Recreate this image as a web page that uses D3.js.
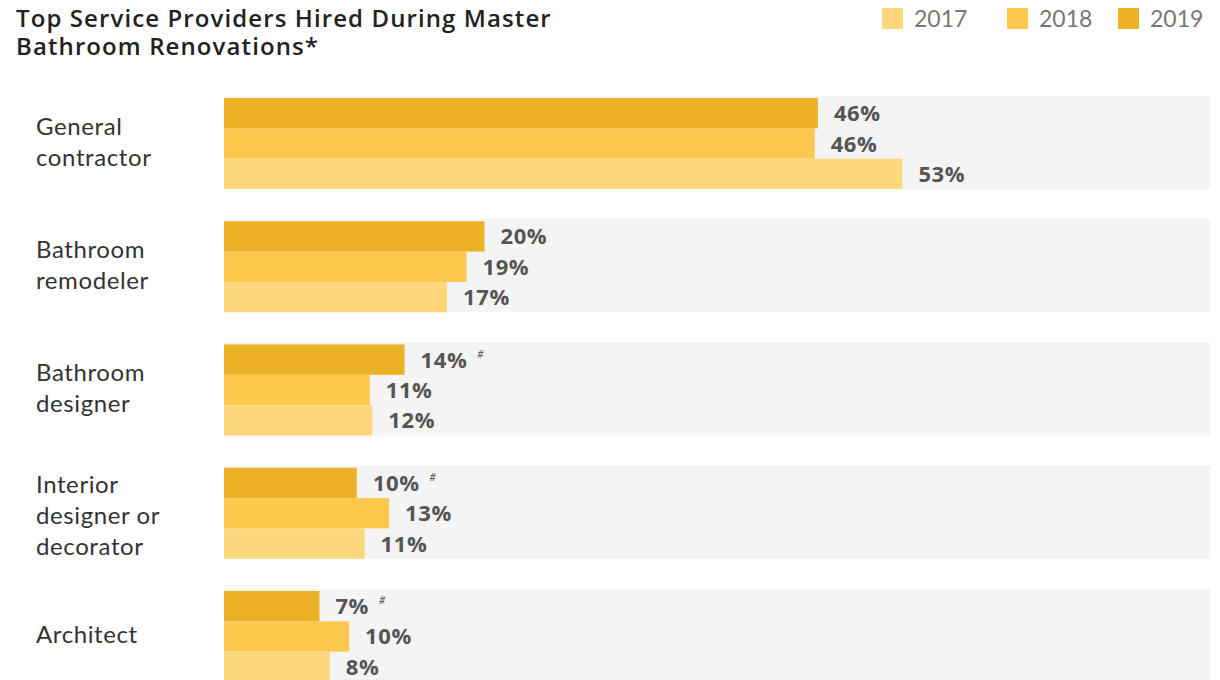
<!DOCTYPE html>
<html lang="en">
  <head>
    <meta charset="UTF-8" />
    <title>Top Service Providers Hired During Master Bathroom Renovations</title>
    <script src="https://d3js.org/d3.v7.min.js"></script>
    <style>
      body {
        margin: 0;
        background: #fff;
        font-family: Lato, 'Open Sans', sans-serif;
      }
      svg {
        display: block;
      }
    </style>
  </head>
  <body>
    <svg width="1220" height="680"></svg>

    <script>
      // data (bar lengths estimated, labels rounded)
      const categories = [
        'General contractor',
        'Bathroom remodeler',
        'Bathroom designer',
        'Interior designer or decorator',
        'Architect',
      ];
      const categoryLines = [
        ['General', 'contractor'],
        ['Bathroom', 'remodeler'],
        ['Bathroom', 'designer'],
        ['Interior', 'designer or', 'decorator'],
        ['Architect'],
      ];
      const years = ['2017', '2018', '2019'];
      const values2019 = [46.05, 20.2, 14.0, 10.3, 7.4];
      const values2018 = [45.8, 18.8, 11.3, 12.8, 9.7];
      const values2017 = [52.6, 17.3, 11.5, 10.9, 8.2];
      const significant2019 = [false, false, true, true, true];
      const titleLines = ['Top Service Providers Hired During Master', 'Bathroom Renovations*'];

      const colors = { 2017: '#fed67b', 2018: '#fec84f', 2019: '#ecb226' };
      const seriesByYear = { 2017: values2017, 2018: values2018, 2019: values2019 };

      const svg = d3.select('svg');

      // title, two lines
      svg
        .selectAll('.title')
        .data(titleLines)
        .join('text')
        .attr('class', 'title')
        .attr('x', 16)
        .attr('y', (d, i) => 27 + i * 28)
        .attr('fill', '#222')
        .attr('font-family', "'Open Sans', sans-serif")
        .attr('font-size', 24)
        .attr('font-weight', 600)
        .attr('letter-spacing', 1.1)
        .text((d) => d);

      // legend
      const legendX = [882, 1007, 1118];
      const legend = svg
        .selectAll('.legend')
        .data(years)
        .join('g')
        .attr('class', 'legend')
        .attr('transform', (d, i) => `translate(${legendX[i]},8)`);
      legend
        .append('rect')
        .attr('width', 21)
        .attr('height', 21)
        .attr('fill', (d) => colors[d]);
      legend
        .append('text')
        .attr('x', 32)
        .attr('y', 19)
        .attr('font-size', 23)
        .attr('fill', '#777')
        .text((d) => d);

      // scales
      const x = d3.scaleLinear().domain([0, 76.45]).range([224, 1210]);

      const y = d3
        .scaleBand()
        .domain(categories)
        .range([96, 682])
        .paddingInner(0.245)
        .paddingOuter(0);

      const barOrder = ['2019', '2018', '2017'];
      const yInner = d3
        .scaleBand()
        .domain(barOrder)
        .range([2, y.bandwidth()])
        .padding(0);

      const groups = svg
        .selectAll('.group')
        .data(categories)
        .join('g')
        .attr('class', 'group')
        .attr('transform', (d) => `translate(0,${y(d)})`);

      // grey background bands
      groups
        .append('rect')
        .attr('x', x(0))
        .attr('width', x.range()[1] - x(0))
        .attr('height', y.bandwidth())
        .attr('fill', '#f4f4f4');

      // bars
      groups.each(function (cat, ci) {
        const g = d3.select(this);
        const rows = barOrder.map((yr) => ({
          year: yr,
          value: seriesByYear[yr][ci],
          sig: yr === '2019' && significant2019[ci],
        }));

        g.selectAll('.bar')
          .data(rows)
          .join('rect')
          .attr('class', 'bar')
          .attr('x', x(0))
          .attr('y', (d) => yInner(d.year))
          .attr('width', (d) => x(d.value) - x(0))
          .attr('height', yInner.bandwidth())
          .attr('fill', (d) => colors[d.year]);

        const labels = g
          .selectAll('.val')
          .data(rows)
          .join('text')
          .attr('class', 'val')
          .attr('x', (d) => x(d.value) + 16)
          .attr('y', (d) => yInner(d.year) + yInner.bandwidth() / 2 + 8)
          .attr('font-family', "'Open Sans', sans-serif")
          .attr('font-size', 22)
          .attr('font-weight', 700)
          .attr('letter-spacing', 0.6)
          .attr('fill', '#555')
          .text((d) => Math.round(d.value) + '%');

        labels
          .filter((d) => d.sig)
          .each(function (d) {
            const w = this.getComputedTextLength();
            g.append('text')
              .attr('x', x(d.value) + 16 + w + 10)
              .attr('y', yInner(d.year) + yInner.bandwidth() / 2 - 2)
              .attr('font-size', 11)
              .attr('font-style', 'italic')
              .attr('fill', '#555')
              .text('#');
          });

        // category label
        const lines = categoryLines[ci];
        const mid = y.bandwidth() / 2;
        const shift = lines.length === 3 ? 12 : 8;
        g.append('text')
          .attr('font-size', 24)
          .attr('letter-spacing', 0.6)
          .attr('fill', '#333')
          .selectAll('tspan')
          .data(lines)
          .join('tspan')
          .attr('x', 36)
          .attr('y', (d, i) => mid + (i - (lines.length - 1) / 2) * 31 + shift)
          .text((d) => d);
      });
    </script>
  </body>
</html>
